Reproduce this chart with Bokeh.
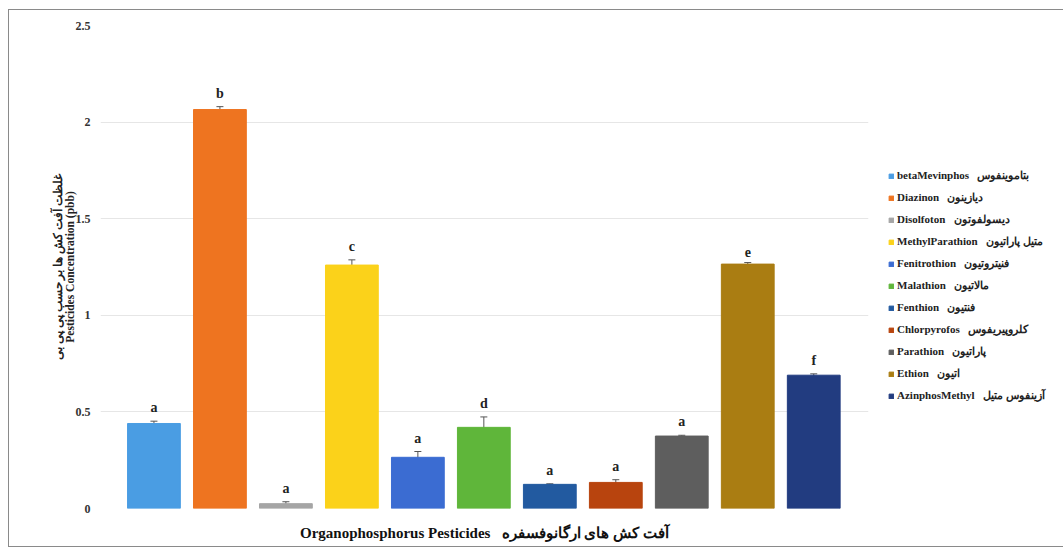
from bokeh.plotting import figure
from bokeh.models import (ColumnDataSource, Range1d, Whisker, Legend, LegendItem,
                          FixedTicker, TeeHead)
from bokeh.embed import file_html
from bokeh.resources import INLINE

# ---- data ----
names_en = ["betaMevinphos", "Diazinon", "Disolfoton", "MethylParathion", "Fenitrothion",
            "Malathion", "Fenthion", "Chlorpyrofos", "Parathion", "Ethion", "AzinphosMethyl"]
names_fa = ["بتاموینفوس", "دیازینون", "دیسولفوتون", "متیل پاراتیون", "فنیتروتیون",
            "مالاتیون", "فنتیون", "کلروپیریفوس", "پاراتیون", "اتیون", "آزینفوس متیل"]
values = [0.44, 2.065, 0.025, 1.26, 0.265, 0.42, 0.125, 0.135, 0.375, 1.265, 0.69]
errors = [0.012, 0.015, 0.010, 0.027, 0.030, 0.054, 0.003, 0.014, 0.004, 0.008, 0.007]
letters = ["a", "b", "a", "c", "a", "d", "a", "a", "a", "e", "f"]
colors = ["#4a9de3", "#ee7420", "#a5a5a5", "#fbd21a", "#3b6cd2", "#5fb63a",
          "#225aa0", "#b8440e", "#5e5e5e", "#aa7d12", "#223c80"]
y_ticks = [0, 0.5, 1, 1.5, 2, 2.5]
y_tick_labels = ["0", "0.5", "1", "1.5", "2", "2.5"]
y_title = "غلظت آفت کش ها بر حسب پی پی بی\nPesticides Concentration (pbb)"
x_title = "Organophosphorus Pesticides\u00a0\u00a0\u00a0آفت کش های ارگانوفسفره"

xs = list(range(len(values)))
src = ColumnDataSource(dict(
    x=xs, top=values, color=colors, letter=letters,
    upper=[v + e for v, e in zip(values, errors)],
    lower=[v - e for v, e in zip(values, errors)],
))

SERIF = "Liberation Serif"

p = figure(frame_width=768, frame_height=483, output_backend="svg", toolbar_location=None,
           x_range=Range1d(-0.81, 10.83), y_range=Range1d(0, 2.5),
           min_border_left=91, min_border_top=15, min_border_bottom=38, min_border_right=187,
           styles={"margin-left": "8px", "margin-top": "9px", "border": "1px solid #8a8a8a"})
p.outline_line_color = None
p.background_fill_color = "white"

bars = p.vbar(x="x", top="top", width=0.8, color="color", source=src)

w = Whisker(base="x", upper="upper", lower="lower", source=src, line_color="#555555",
            line_width=1)
w.upper_head = TeeHead(size=7, line_color="#555555", line_width=1)
w.lower_head = TeeHead(size=7, line_color="#555555", line_width=1)
p.add_layout(w)

p.text(x="x", y="upper", text="letter", source=src, text_align="center",
       text_baseline="bottom", y_offset=-6, text_font=SERIF, text_font_style="bold",
       text_font_size="14px", text_color="#222222")

# axes
p.yaxis.ticker = FixedTicker(ticks=y_ticks)
p.yaxis.major_label_overrides = {t: l for t, l in zip(y_ticks, y_tick_labels)}
p.yaxis.axis_line_color = None
p.yaxis.major_tick_line_color = None
p.yaxis.minor_tick_line_color = None
p.yaxis.major_label_standoff = 4
p.yaxis.major_label_text_font = SERIF
p.yaxis.major_label_text_font_style = "bold"
p.yaxis.major_label_text_font_size = "12px"
p.yaxis.major_label_text_color = "#333333"
p.yaxis.axis_label = y_title
p.yaxis.axis_label_text_font = SERIF
p.yaxis.axis_label_text_font_style = "bold"
p.yaxis.axis_label_text_font_size = "11.5px"
p.yaxis.axis_label_text_line_height = 1.0
p.yaxis.axis_label_text_color = "#222222"
p.yaxis.axis_label_standoff = -3

p.xaxis.ticker = FixedTicker(ticks=[])
p.xaxis.axis_line_color = None
p.xaxis.major_tick_line_color = None
p.xaxis.minor_tick_line_color = None
p.xaxis.axis_label = x_title
p.xaxis.axis_label_text_font = SERIF
p.xaxis.axis_label_text_font_style = "bold"
p.xaxis.axis_label_text_font_size = "15px"
p.xaxis.axis_label_text_color = "#111111"
p.xaxis.axis_label_standoff = 16

p.xgrid.grid_line_color = None
p.ygrid.ticker = FixedTicker(ticks=y_ticks)
p.ygrid.grid_line_color = "#e6e6e6"
p.ygrid.grid_line_width = 1

# legend
items = [LegendItem(label=f"{en}\u00a0\u00a0\u00a0{fa}", renderers=[bars], index=i)
         for i, (en, fa) in enumerate(zip(names_en, names_fa))]
legend = Legend(items=items, location=(20, 105), orientation="vertical",
                label_text_font=SERIF, label_text_font_style="bold",
                label_text_font_size="11px", label_text_color="#222222",
                glyph_width=6, glyph_height=6, label_standoff=3, spacing=7,
                label_height=15, padding=2, margin=0,
                border_line_color=None, background_fill_alpha=0)
p.add_layout(legend, "right")

open("out.html", "w").write(file_html(p, INLINE))
